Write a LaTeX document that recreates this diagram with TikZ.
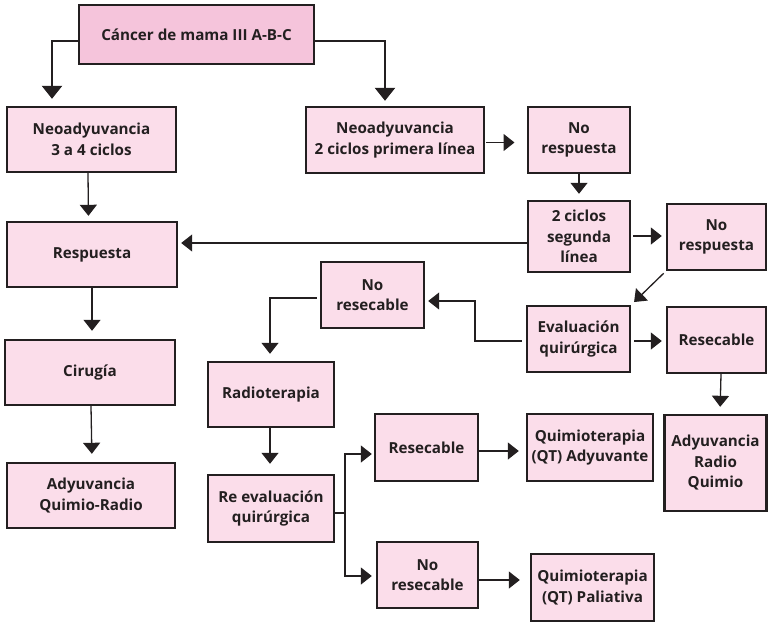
\documentclass[tikz,border=0pt]{standalone}
\usepackage{fontspec}
\setmainfont{Open Sans}
\usetikzlibrary{arrows.meta,calc}
\definecolor{boxline}{HTML}{231F20}
\definecolor{topfill}{HTML}{F5C4DB}
\definecolor{boxfill}{HTML}{FBDDEA}
\tikzset{
  box/.style={draw=boxline, line width=2.4pt, fill=boxfill, align=center, inner sep=0pt,
    font=\bfseries\fontsize{15.2}{20.5}\selectfont, text=boxline},
  conn/.style={draw=boxline, line width=1.3pt, -{Triangle[length=11pt,width=17pt]}},
  connrev/.style={draw=boxline, line width=1.3pt, {Triangle[length=11pt,width=17pt]}-},
  bigconn/.style={draw=boxline, line width=2.6pt, -{Triangle[length=13pt,width=20pt]}},
}
\begin{document}
\begin{tikzpicture}[x=1pt,y=-1pt]
\useasboundingbox (0,0) rectangle (768,622);
% boxes
\node[box, fill=topfill, minimum width=235pt, minimum height=59pt] (top) at (196.5,34.5) {Cáncer de mama III A-B-C};
\node[box, minimum width=169pt, minimum height=65pt] (neo1) at (91.5,139.5) {Neoadyuvancia\\3 a 4 ciclos};
\node[box, minimum width=178pt, minimum height=66pt] (neo2) at (395,140) {Neoadyuvancia\\2 ciclos primera línea};
\node[box, minimum width=102pt, minimum height=66pt] (nr1) at (579,140) {No\\respuesta};
\node[box, minimum width=102pt, minimum height=71pt] (ciclos2) at (579,236.5) {2 ciclos\\segunda\\línea};
\node[box, minimum width=99pt, minimum height=66pt] (nr2) at (716.5,237) {No\\respuesta};
\node[box, minimum width=170pt, minimum height=65pt] (resp) at (92,254.5) {Respuesta};
\node[box, minimum width=170pt, minimum height=65pt] (cir) at (90,372.5) {Cirugía};
\node[box, minimum width=168pt, minimum height=65pt] (adyqr) at (91,495.5) {Adyuvancia\\Quimio-Radio};
\node[box, minimum width=103pt, minimum height=66pt] (nores1) at (372.5,295) {No\\resecable};
\node[box, minimum width=103pt, minimum height=66pt] (evalq) at (578.5,339) {Evaluación\\quirúrgica};
\node[box, minimum width=99pt, minimum height=66pt] (res1) at (716.5,340) {Resecable};
\node[box, minimum width=126pt, minimum height=65pt] (radio) at (271,394.5) {Radioterapia};
\node[box, minimum width=102pt, minimum height=96pt] (adyrq) at (715.5,463) {Adyuvancia\\Radio\\Quimio};
\node[box, minimum width=126pt, minimum height=67pt] (reeval) at (271,508.5) {Re evaluación\\quirúrgica};
\node[box, minimum width=103pt, minimum height=67pt] (res2) at (426.5,447.5) {Resecable};
\node[box, minimum width=126pt, minimum height=67pt] (qtady) at (590,447.5) {Quimioterapia\\(QT) Adyuvante};
\node[box, minimum width=101pt, minimum height=66pt] (nores2) at (427.5,575) {No\\resecable};
\node[box, minimum width=123pt, minimum height=67pt] (qtpal) at (592.5,587.5) {Quimioterapia\\(QT) Paliativa};
% helper coordinates
\coordinate (xl) at (52,0);
\coordinate (xr) at (385,0);
\coordinate (xe) at (475,0);
\coordinate (xn) at (270,0);
\coordinate (xb) at (345,0);
\coordinate (c0) at (0,142.5);
\coordinate (t0) at (514.5,142.5);
\coordinate (c1) at ([yshift=0.5pt]ciclos2.east);
\coordinate (c2) at ([yshift=-6.5pt]ciclos2.west);
\coordinate (n1) at ([yshift=-6pt]nores1.east);
\coordinate (r2) at ([yshift=-6.5pt]res2.west);
\coordinate (n2) at ([yshift=-1pt]nores2.west);
\coordinate (r2e) at ([yshift=-3.5pt]res2.east);
\coordinate (n2e) at ([yshift=-5pt]nores2.east);
% connectors
\draw[bigconn, shorten >=7pt] ([yshift=-6.5pt]top.west) -| (neo1.north -| xl);
\draw[bigconn, shorten >=5pt] ([yshift=-6.5pt]top.east) -| (neo2.north -| xr);
\draw[connrev, shorten >=1pt] (t0) -- (neo2.east |- c0);
\draw[conn, shorten >=6pt] (nr1.south) -- (ciclos2.north);
\draw[conn, shorten <=2pt, shorten >=4pt] (c1) -- (nr2.west |- c1);
\draw[conn, shorten >=3pt] (c2) -- (resp.east |- c2);
\draw[conn, shorten >=5pt] ([xshift=-3.5pt]neo1.south) -- ([xshift=-3.5pt]resp.north);
\draw[conn, shorten >=8pt] (resp.south) -- (cir.north -| resp.south);
\draw[conn, shorten >=8pt] ([xshift=1pt]cir.south) -- ([xshift=1pt]adyqr.north);
\draw[conn, shorten <=3pt, shorten >=4pt] (nr2.south west) -- (evalq.north east);
\draw[conn, shorten >=3pt] ([xshift=-4pt,yshift=-2pt]evalq.west) -| (xe |- n1) -- (n1);
\draw[conn, shorten <=3pt, shorten >=4pt] ([yshift=-2pt]evalq.east) -- ([yshift=-1pt]res1.west);
\draw[conn, shorten >=7pt] ([xshift=-3pt,yshift=-3pt]nores1.west) -| (radio.north -| xn);
\draw[conn, shorten >=7pt] ([xshift=4.5pt]res1.south) -- ([xshift=4.5pt]adyrq.north);
\draw[conn, shorten >=10pt] ([xshift=-1pt]radio.south) -- ([xshift=-1pt]reeval.north);
\draw[conn, shorten >=2pt] ([yshift=-4.5pt]reeval.east) -| (xb |- r2) -- (r2);
\draw[conn, shorten >=4pt] ([yshift=-4.5pt]reeval.east) -| (xb |- n2) -- (n2);
\draw[conn, shorten >=7pt] (r2e) -- (qtady.west |- r2e);
\draw[conn, shorten >=10pt] (n2e) -- (qtpal.west |- n2e);
\end{tikzpicture}
\end{document}
